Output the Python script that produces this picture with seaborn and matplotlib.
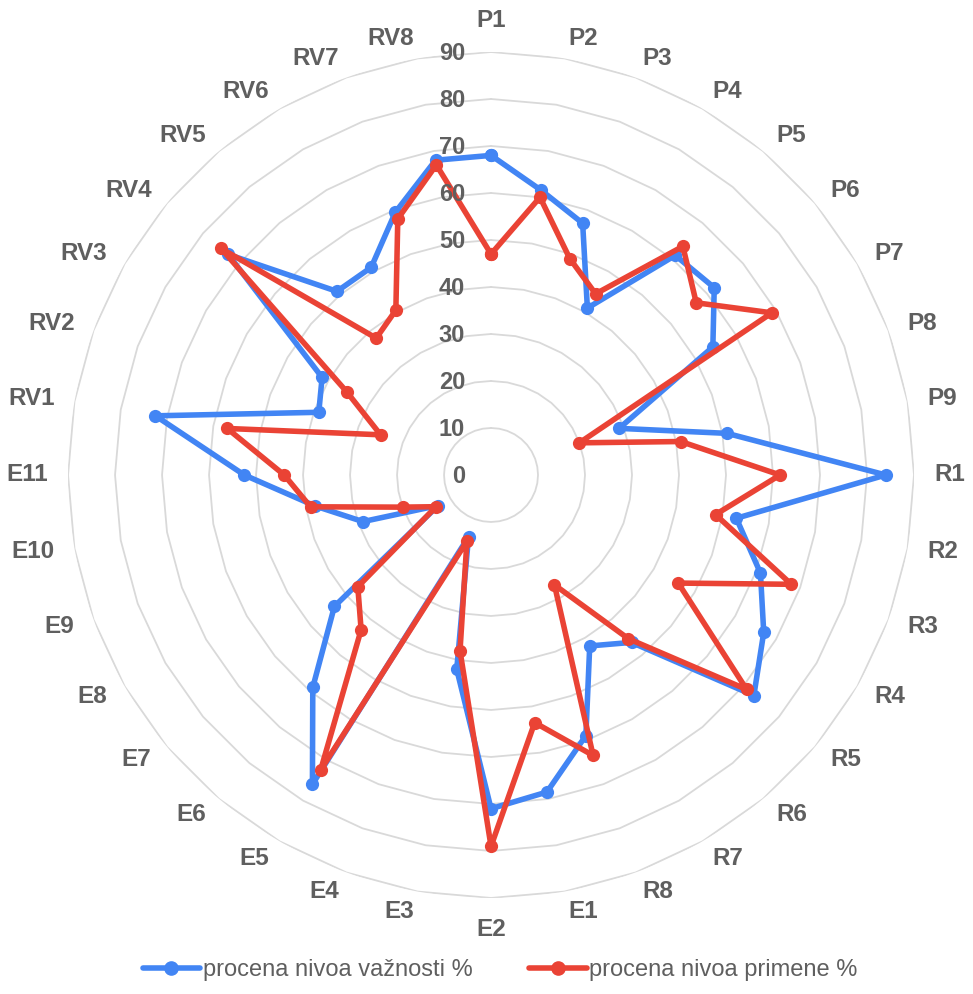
import numpy as np
import pandas as pd
import matplotlib.pyplot as plt
import seaborn as sns
from matplotlib.transforms import ScaledTranslation

# categories, clockwise from the top
categories = ['P1', 'P2', 'P3', 'P4', 'P5', 'P6', 'P7', 'P8', 'P9',
              'R1', 'R2', 'R3', 'R4', 'R5', 'R6', 'R7', 'R8',
              'E1', 'E2', 'E3', 'E4', 'E5', 'E6', 'E7', 'E8', 'E9', 'E10', 'E11',
              'RV1', 'RV2', 'RV3', 'RV4', 'RV5', 'RV6', 'RV7', 'RV8']

# procena nivoa važnosti %
importance = [68, 61.5, 57, 41, 61, 62, 54.5, 29, 51,
              84, 53, 61, 67, 73, 46.5, 42, 59,
              68.5, 71, 42, 14, 76, 59, 43.5, 13, 29, 38, 52.5,
              72.5, 39, 41.5, 73, 51, 51, 59.5, 68]

# procena nivoa primene %
application = [47, 60, 49, 44.5, 63.5, 57, 69, 20, 41,
               61.5, 48.5, 68, 46, 71, 45.5, 27, 63.5,
               53.5, 79, 38, 15, 72.5, 43, 37, 13.5, 20, 39, 44,
               57, 25, 35.5, 75, 38, 40.5, 58, 67]

series_names = ['procena nivoa važnosti %', 'procena nivoa primene %']
series_colors = ['#4285F4', '#EA4335']
r_ticks = [0, 10, 20, 30, 40, 50, 60, 70, 80, 90]

sns.set_theme(style='white')
plt.rcParams['font.family'] = ['Liberation Sans', 'DejaVu Sans']
text_color = '#5f5f5f'

n = len(categories)
angles = np.linspace(0, 2 * np.pi, n, endpoint=False)
closed = np.append(angles, 2 * np.pi)

df = pd.DataFrame({
    'angle': np.concatenate([closed, closed]),
    'value': importance + importance[:1] + application + application[:1],
    'series': [series_names[0]] * (n + 1) + [series_names[1]] * (n + 1),
})

fig = plt.figure(figsize=(9.73, 9.94), dpi=100)
ax = fig.add_axes([0.0699, 0.0966, 0.8695, 0.8511], projection='polar')
ax.set_theta_zero_location('N')
ax.set_theta_direction(-1)

# polygon grid
for r in r_ticks[1:]:
    ax.plot(closed, [r] * len(closed), color='#d9d9d9', lw=1.3, zorder=0)

sns.lineplot(data=df, x='angle', y='value', hue='series', hue_order=series_names,
             palette=series_colors, marker='o', markersize=9.5, markeredgewidth=0,
             linewidth=4, sort=False, ax=ax, legend=False, zorder=3)

ax.set_ylim(0, 90)
ax.set_xticks([])
ax.set_yticks([])
ax.grid(False)
ax.spines['polar'].set_visible(False)
ax.set_xlabel('')
ax.set_ylabel('')

# category labels, anchored by the edge nearest the chart
for a, c in zip(angles, categories):
    deg = np.degrees(a)
    if np.isclose(deg, 0):
        ha, va = 'center', 'bottom'
    elif np.isclose(deg, 180):
        ha, va = 'center', 'top'
    elif deg < 180:
        ha, va = 'left', 'center'
    else:
        ha, va = 'right', 'center'
    ax.text(a, 94.3, c, ha=ha, va=va, fontsize=17.5,
            fontweight='bold', color=text_color)

# radial labels
off = ax.transData + ScaledTranslation(-0.26, -0.02, fig.dpi_scale_trans)
for r in r_ticks:
    ax.text(0, r, str(r), transform=off, ha='right', va='center',
            fontsize=17, fontweight='bold', color=text_color)

handles = [plt.Line2D([], [], color=col, lw=4, marker='o', markersize=9.5)
           for col in series_colors]
fig.legend(handles, series_names, loc='center', bbox_to_anchor=(0.514, 0.024),
           ncol=2, frameon=False, fontsize=17, handlelength=2.45,
           handletextpad=0.1, columnspacing=2.4, labelcolor=text_color)

fig.savefig('out.png', dpi=100)
